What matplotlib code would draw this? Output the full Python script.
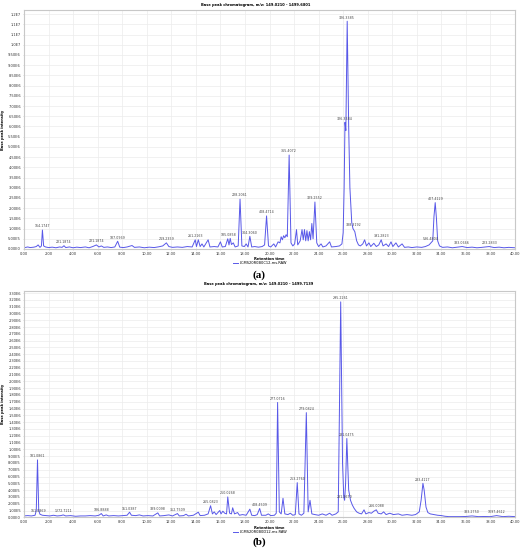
import matplotlib
matplotlib.use("Agg")
import matplotlib.pyplot as plt

# ---------------- DATA ----------------
title_a = "Base peak chromatogram, m/z: 149.0210 - 1499.6801"
title_b = "Base peak chromatogram, m/z: 149.0210 - 1499.7139"
legend_a = "LCMS20R0B0C12-ms.RAW"
legend_b = "LCMS20R0B0D12-ms.RAW"
xlabel = "Retention time"
ylabel = "Base peak intensity"

x_ticks = [0, 2, 4, 6, 8, 10, 12, 14, 16, 18, 20, 22, 24, 26, 28, 30, 32, 34, 36, 38, 40]
x_tick_labels = ["0.00", "2.00", "4.00", "6.00", "8.00", "10.00", "12.00", "14.00", "16.00",
                 "18.00", "20.00", "22.00", "24.00", "26.00", "28.00", "30.00", "32.00",
                 "34.00", "36.00", "38.00", "40.00"]

ya_ticks = [0, 5e5, 1e6, 1.5e6, 2e6, 2.5e6, 3e6, 3.5e6, 4e6, 4.5e6, 5e6, 5.5e6, 6e6, 6.5e6,
            7e6, 7.5e6, 8e6, 8.5e6, 9e6, 9.5e6, 1e7, 1.05e7, 1.1e7, 1.15e7]
ya_tick_labels = ["0.00E0", "5.00E5", "1.00E6", "1.50E6", "2.00E6", "2.50E6", "3.00E6",
                  "3.50E6", "4.00E6", "4.50E6", "5.00E6", "5.50E6", "6.00E6", "6.50E6",
                  "7.00E6", "7.50E6", "8.00E6", "8.50E6", "9.00E6", "9.50E6", "1.0E7",
                  "1.1E7", "1.1E7", "1.2E7"]

yb_ticks = [0, 1e5, 2e5, 3e5, 4e5, 5e5, 6e5, 7e5, 8e5, 9e5, 1e6, 1.1e6, 1.2e6, 1.3e6, 1.4e6,
            1.5e6, 1.6e6, 1.7e6, 1.8e6, 1.9e6, 2e6, 2.1e6, 2.2e6, 2.3e6, 2.4e6, 2.5e6, 2.6e6,
            2.7e6, 2.8e6, 2.9e6, 3e6, 3.1e6, 3.2e6, 3.3e6]
yb_tick_labels = ["0.00E0", "1.00E5", "2.00E5", "3.00E5", "4.00E5", "5.00E5", "6.00E5",
                  "7.00E5", "8.00E5", "9.00E5", "1.00E6", "1.10E6", "1.20E6", "1.30E6",
                  "1.40E6", "1.50E6", "1.60E6", "1.70E6", "1.80E6", "1.90E6", "2.00E6",
                  "2.10E6", "2.20E6", "2.30E6", "2.40E6", "2.50E6", "2.60E6", "2.70E6",
                  "2.80E6", "2.90E6", "3.00E6", "3.10E6", "3.20E6", "3.30E6"]

# chromatogram (a): retention time (min) and intensity
time_a = [0.0, 0.3, 0.5, 0.8, 1.0, 1.15, 1.3, 1.42, 1.5, 1.6, 1.75, 2.0, 2.3, 2.6, 2.9, 3.1,
          3.26, 3.4, 3.7, 4.0, 4.3, 4.6, 5.0, 5.3, 5.6, 5.9, 6.1, 6.3, 6.5, 6.8, 7.1, 7.4,
          7.63, 7.8, 8.1, 8.4, 8.8, 9.0, 9.4, 9.8, 10.2, 10.6, 11.0, 11.3, 11.6, 11.8, 12.1,
          12.5, 12.9, 13.3, 13.7, 13.95, 14.05, 14.2, 14.35, 14.5, 14.65, 15.0, 15.15, 15.5,
          15.8, 16.0, 16.15, 16.4, 16.6, 16.7, 16.8, 16.9, 17.05, 17.2, 17.45, 17.6, 17.75,
          17.95, 18.1, 18.25, 18.4, 18.55, 18.8, 19.1, 19.4, 19.6, 19.76, 19.92, 20.1, 20.35,
          20.5, 20.7, 20.85, 20.95, 21.05, 21.15, 21.25, 21.35, 21.45, 21.6, 21.75, 21.9,
          22.05, 22.2, 22.3, 22.4, 22.5, 22.65, 22.75, 22.85, 22.95, 23.05, 23.15, 23.25,
          23.35, 23.45, 23.55, 23.7, 23.85, 24.0, 24.2, 24.35, 24.6, 24.9, 25.05, 25.4, 25.7,
          25.9, 26.0, 26.08, 26.15, 26.22, 26.33, 26.45, 26.55, 26.7, 26.8, 26.95, 27.1,
          27.25, 27.4, 27.6, 27.75, 27.9, 28.1, 28.25, 28.5, 28.7, 28.9, 29.1, 29.25, 29.5,
          29.7, 29.9, 30.05, 30.3, 30.5, 30.8, 31.0, 31.3, 31.6, 32.0, 32.4, 32.7, 33.0,
          33.15, 33.3, 33.4, 33.5, 33.6, 33.7, 33.85, 34.1, 34.5, 34.9, 35.3, 35.7, 36.1,
          36.5, 36.9, 37.3, 37.9, 38.3, 38.7, 39.1, 39.5, 40.0]
intensity_a = [0.06e6, 0.10e6, 0.07e6, 0.09e6, 0.12e6, 0.20e6, 0.08e6, 0.15e6, 0.93e6,
               0.15e6, 0.10e6, 0.07e6, 0.09e6, 0.06e6, 0.10e6, 0.08e6, 0.16e6, 0.07e6,
               0.10e6, 0.06e6, 0.09e6, 0.07e6, 0.10e6, 0.06e6, 0.12e6, 0.20e6, 0.10e6,
               0.15e6, 0.08e6, 0.10e6, 0.07e6, 0.10e6, 0.38e6, 0.09e6, 0.07e6, 0.10e6,
               0.17e6, 0.08e6, 0.10e6, 0.06e6, 0.09e6, 0.07e6, 0.11e6, 0.15e6, 0.30e6,
               0.12e6, 0.08e6, 0.10e6, 0.08e6, 0.12e6, 0.10e6, 0.45e6, 0.12e6, 0.45e6,
               0.12e6, 0.25e6, 0.10e6, 0.45e6, 0.10e6, 0.12e6, 0.10e6, 0.35e6, 0.10e6,
               0.12e6, 0.50e6, 0.20e6, 0.52e6, 0.22e6, 0.30e6, 0.10e6, 0.15e6, 2.44e6,
               0.15e6, 0.12e6, 0.25e6, 0.10e6, 0.62e6, 0.10e6, 0.12e6, 0.09e6, 0.12e6,
               0.20e6, 1.62e6, 0.15e6, 0.10e6, 0.25e6, 0.10e6, 0.35e6, 0.30e6, 0.60e6,
               0.45e6, 0.65e6, 0.55e6, 0.70e6, 0.60e6, 4.60e6, 0.30e6, 0.15e6, 0.25e6,
               0.95e6, 0.20e6, 0.30e6, 0.40e6, 0.95e6, 0.45e6, 0.95e6, 0.40e6, 0.90e6,
               0.40e6, 0.85e6, 0.45e6, 1.25e6, 0.50e6, 2.30e6, 0.30e6, 0.12e6, 0.25e6,
               0.10e6, 0.15e6, 0.35e6, 0.10e6, 0.12e6, 0.15e6, 0.25e6, 0.80e6, 3.00e6,
               6.20e6, 5.80e6, 11.15e6, 6.00e6, 3.00e6, 1.30e6, 1.00e6, 0.85e6, 0.40e6,
               0.20e6, 0.15e6, 0.25e6, 0.45e6, 0.15e6, 0.30e6, 0.12e6, 0.28e6, 0.12e6,
               0.20e6, 0.45e6, 0.15e6, 0.25e6, 0.12e6, 0.35e6, 0.12e6, 0.30e6, 0.10e6,
               0.25e6, 0.08e6, 0.10e6, 0.07e6, 0.10e6, 0.08e6, 0.12e6, 0.20e6, 0.30e6,
               0.40e6, 1.60e6, 2.27e6, 1.50e6, 0.40e6, 0.15e6, 0.08e6, 0.10e6, 0.06e6,
               0.09e6, 0.12e6, 0.07e6, 0.09e6, 0.06e6, 0.08e6, 0.12e6, 0.07e6, 0.09e6,
               0.06e6, 0.08e6, 0.06e6]

peak_time_a = [1.5, 3.26, 5.9, 7.63, 11.6, 14.0, 16.7, 17.6, 18.4, 19.76, 21.6, 23.7,
               26.15, 26.33, 26.85, 29.1, 33.15, 33.5, 35.7, 37.9]
peak_value_a = [0.93e6, 0.16e6, 0.20e6, 0.38e6, 0.30e6, 0.45e6, 0.52e6, 2.44e6, 0.62e6,
                1.62e6, 4.60e6, 2.30e6, 6.20e6, 11.15e6, 1.00e6, 0.45e6, 0.30e6, 2.27e6,
                0.12e6, 0.12e6]
peak_label_a = ["164.1747", "221.1874", "221.1874", "187.0969", "219.2359", "261.2163",
                "185.0858", "228.2061", "304.3060", "408.4714", "365.4072", "329.2552",
                "326.3384", "326.3385", "338.3192", "391.2823", "536.4804", "407.4129",
                "333.0666", "223.2833"]

# chromatogram (b)
time_b = [0.0, 0.3, 0.6, 0.9, 1.0, 1.1, 1.2, 1.3, 1.5, 1.8, 2.1, 2.4, 2.7, 3.0, 3.2, 3.4,
          3.8, 4.2, 4.6, 5.0, 5.4, 5.8, 6.1, 6.3, 6.45, 6.7, 6.9, 7.3, 7.7, 8.1, 8.4, 8.6,
          8.75, 9.1, 9.4, 9.7, 10.1, 10.5, 10.9, 11.05, 11.4, 11.8, 12.1, 12.5, 12.65, 13.0,
          13.2, 13.4, 13.8, 14.2, 14.35, 14.7, 15.0, 15.2, 15.35, 15.5, 15.65, 15.8, 15.95,
          16.05, 16.2, 16.35, 16.5, 16.6, 16.75, 16.9, 17.0, 17.15, 17.4, 17.55, 17.8, 18.1,
          18.4, 18.55, 18.8, 19.0, 19.2, 19.35, 19.7, 19.9, 20.1, 20.4, 20.55, 20.66, 20.8,
          20.95, 21.1, 21.25, 21.5, 21.7, 21.9, 22.1, 22.26, 22.4, 22.6, 22.8, 23.0, 23.15,
          23.3, 23.45, 23.7, 24.0, 24.3, 24.6, 24.9, 25.1, 25.4, 25.6, 25.8, 25.95, 26.05,
          26.12, 26.2, 26.3, 26.45, 26.6, 26.75, 26.9, 27.1, 27.3, 27.5, 27.7, 27.85, 28.1,
          28.3, 28.5, 28.7, 28.85, 29.1, 29.3, 29.5, 29.8, 30.1, 30.5, 30.8, 31.2, 31.6,
          31.9, 32.2, 32.35, 32.5, 32.6, 32.75, 32.9, 33.1, 33.4, 33.7, 34.0, 34.3, 34.6,
          35.0, 35.5, 36.0, 36.5, 37.0, 37.5, 38.0, 38.5, 39.0, 39.5, 40.0]
intensity_b = [0.2e5, 0.25e5, 0.2e5, 0.3e5, 1.0e5, 8.45e5, 1.0e5, 0.45e5, 0.3e5, 0.25e5,
               0.2e5, 0.3e5, 0.2e5, 0.25e5, 0.35e5, 0.2e5, 0.25e5, 0.15e5, 0.2e5, 0.2e5,
               0.25e5, 0.2e5, 0.3e5, 0.55e5, 0.2e5, 0.35e5, 0.2e5, 0.25e5, 0.2e5, 0.25e5,
               0.3e5, 0.75e5, 0.3e5, 0.25e5, 0.35e5, 0.2e5, 0.25e5, 0.2e5, 0.65e5, 0.2e5,
               0.25e5, 0.35e5, 0.2e5, 0.55e5, 0.2e5, 0.25e5, 0.45e5, 0.2e5, 0.3e5, 0.75e5,
               0.25e5, 0.3e5, 0.5e5, 1.7e5, 0.5e5, 0.8e5, 0.4e5, 0.7e5, 1.0e5, 0.5e5, 0.9e5,
               0.6e5, 0.5e5, 3.0e5, 0.6e5, 0.5e5, 1.4e5, 0.5e5, 0.7e5, 0.3e5, 0.4e5, 0.3e5,
               1.2e5, 0.3e5, 0.25e5, 0.4e5, 1.3e5, 0.3e5, 0.3e5, 0.5e5, 0.25e5, 0.3e5, 0.6e5,
               16.9e5, 0.8e5, 0.5e5, 2.8e5, 0.5e5, 0.4e5, 0.6e5, 0.3e5, 0.4e5, 5.1e5, 0.5e5,
               0.3e5, 0.6e5, 15.4e5, 0.8e5, 2.5e5, 0.5e5, 0.4e5, 0.3e5, 0.5e5, 0.3e5, 0.6e5,
               0.3e5, 0.5e5, 0.8e5, 31.7e5, 8.0e5, 3.0e5, 2.5e5, 5.0e5, 11.6e5, 4.0e5, 2.5e5,
               1.8e5, 1.3e5, 0.8e5, 0.6e5, 0.5e5, 1.1e5, 0.5e5, 0.7e5, 0.6e5, 0.9e5, 1.1e5,
               0.6e5, 0.5e5, 0.8e5, 0.4e5, 0.6e5, 0.4e5, 0.5e5, 0.3e5, 0.4e5, 0.3e5, 0.4e5,
               0.8e5, 2.5e5, 5.0e5, 4.0e5, 1.5e5, 0.7e5, 0.5e5, 0.4e5, 0.3e5, 0.25e5,
               0.15e5, 0.1e5, 0.1e5, 0.1e5, 0.12e5, 0.2e5, 0.1e5, 0.12e5, 0.1e5, 0.25e5,
               0.1e5, 0.15e5, 0.1e5]

peak_time_b = [1.1, 1.15, 3.2, 6.3, 8.6, 10.9, 12.5, 15.2, 16.6, 19.2, 20.66, 22.26, 23.0,
               25.8, 26.12, 26.3, 28.7, 32.5, 36.5, 38.5]
peak_value_b = [8.45e5, 0.45e5, 0.35e5, 0.55e5, 0.75e5, 0.65e5, 0.55e5, 1.7e5, 3.0e5,
                1.3e5, 16.9e5, 5.1e5, 15.4e5, 31.7e5, 2.5e5, 11.6e5, 1.1e5, 5.0e5, 0.2e5,
                0.25e5]
peak_label_b = ["181.0861", "161.0869", "1272.7211", "186.8888", "151.0387", "339.0098",
                "352.7509", "265.0823", "250.0268", "408.4509", "277.0716", "253.2760",
                "279.0824", "295.2261", "281.2670", "281.0475", "266.0088", "283.4117",
                "333.2750", "1097.4612"]

# ---------------- PLOT ----------------
W, H = 525, 550
fig = plt.figure(figsize=(W / 100, H / 100), dpi=100)
fig.patch.set_facecolor("white")

line_color = "#4646e6"
small = 2.6


def setup(ax, t, v, yt, ytl, ymax, pt, pv, pl, legend_text, legend_y):
    ax.plot(t, v, color=line_color, lw=0.7, alpha=0.9, label=legend_text)
    ax.set_xlim(0, 40)
    ax.set_ylim(0, ymax)
    ax.set_xticks(x_ticks)
    ax.set_xticklabels(x_tick_labels, fontsize=small, color="#333333")
    ax.set_yticks(yt)
    ax.set_yticklabels(ytl, fontsize=small, color="#333333")
    ax.tick_params(length=1.0, width=0.4, pad=1.2, color="#bbbbbb")
    ax.grid(True, color="#ececec", lw=0.5)
    ax.set_axisbelow(True)
    for s in ax.spines.values():
        s.set_color("#c8c8c8")
        s.set_linewidth(0.8)
    for x, y, s in zip(pt, pv, pl):
        ax.annotate(s, (x, y), xytext=(0, 1.2), textcoords="offset points",
                    ha="center", va="bottom", fontsize=2.3, color="#444444")
    ax.set_xlabel(xlabel, fontsize=small, fontweight="bold", labelpad=1.0)
    ax.set_ylabel(ylabel, fontsize=small, fontweight="bold", labelpad=2.0)
    ax.legend(loc="center", bbox_to_anchor=(260 / W, 1 - legend_y / H),
              bbox_transform=fig.transFigure, frameon=False, fontsize=small,
              handlelength=1.5, handletextpad=0.5, borderpad=0)


axA = fig.add_axes([24 / W, 1 - 249 / H, 491 / W, 239 / H])
setup(axA, time_a, intensity_a, ya_ticks, ya_tick_labels, 1.17e7,
      peak_time_a, peak_value_a, peak_label_a, legend_a, 263.5)

axB = fig.add_axes([24 / W, 1 - 517.3 / H, 491 / W, 226.3 / H])
setup(axB, time_b, intensity_b, yb_ticks, yb_tick_labels, 3.33e6,
      peak_time_b, peak_value_b, peak_label_b, legend_b, 532)

fig.text(256 / W, 1 - 5 / H, title_a, ha="center", va="center", fontsize=small,
         fontweight="bold")
fig.text(259 / W, 1 - 284 / H, title_b, ha="center", va="center", fontsize=small,
         fontweight="bold")
fig.text(259 / W, 1 - 275 / H, "(a)", ha="center", va="center", fontsize=8,
         fontweight="bold", family="Liberation Serif")
fig.text(259 / W, 1 - 542 / H, "(b)", ha="center", va="center", fontsize=8,
         fontweight="bold", family="Liberation Serif")

fig.savefig("out.png", dpi=100)
